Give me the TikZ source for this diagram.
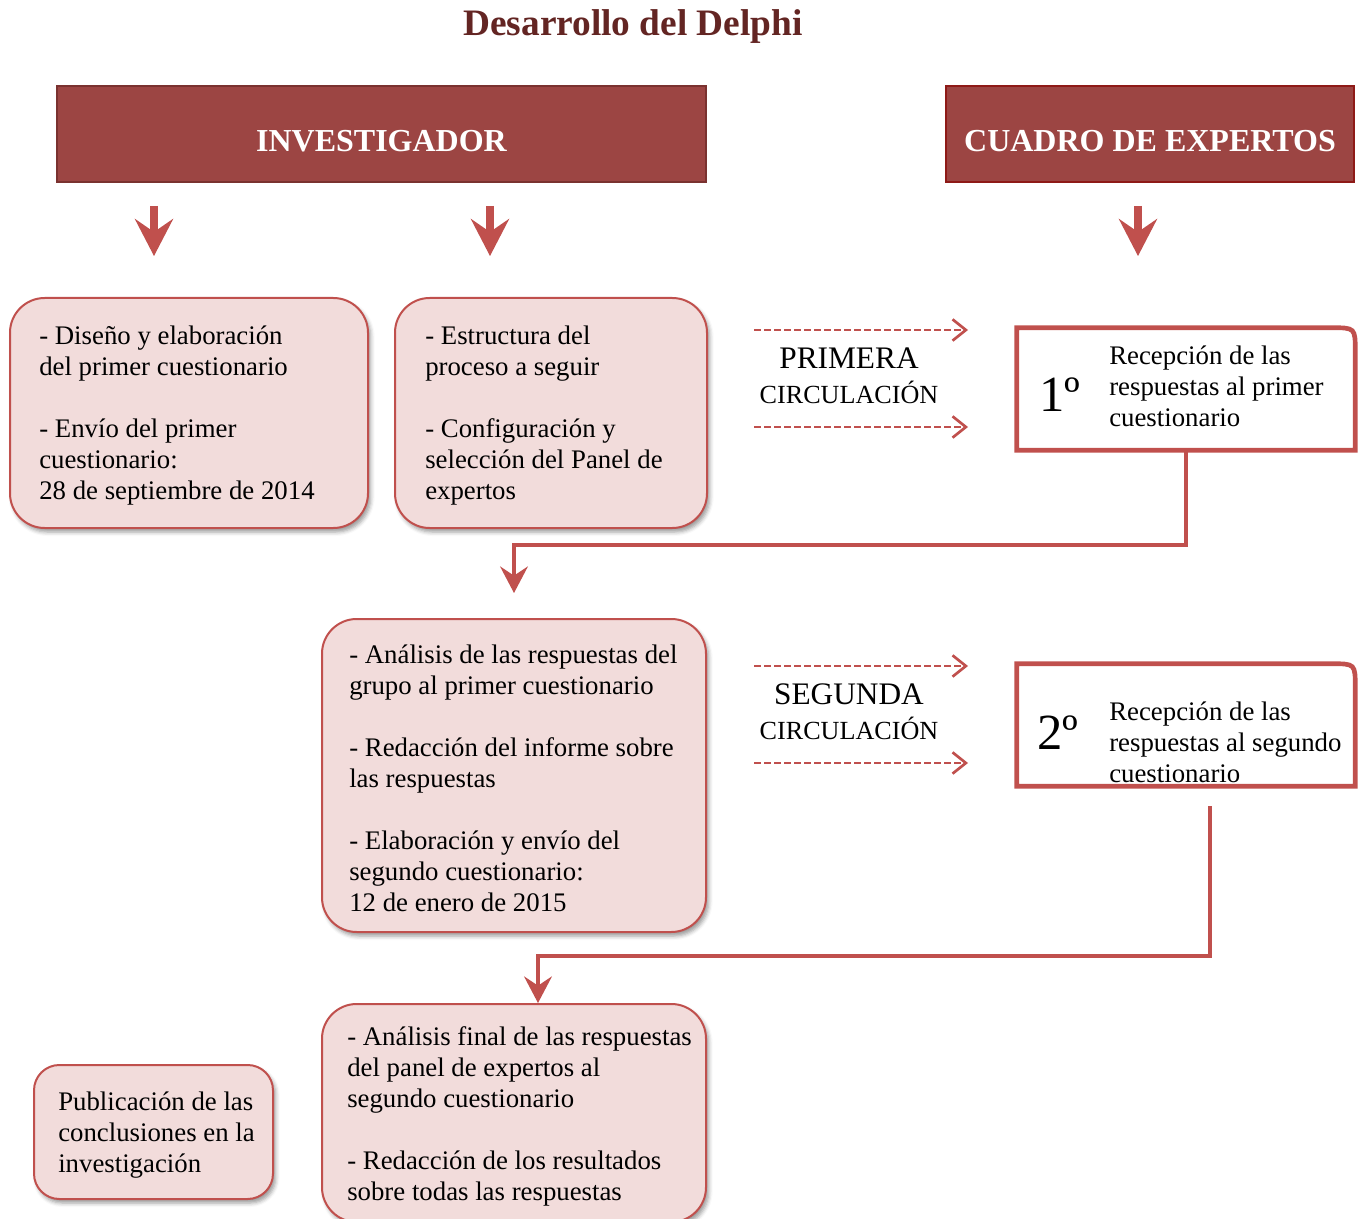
\documentclass[tikz,border=0pt]{standalone}
\usepackage{fontspec}
\setmainfont{Liberation Serif}
\usetikzlibrary{arrows.meta,shadows.blur}

\definecolor{hdr}{HTML}{9C4543}
\definecolor{hdrline}{HTML}{7A3230}
\definecolor{hdrline2}{HTML}{8E1A17}
\definecolor{ttl}{HTML}{632523}
\definecolor{acc}{HTML}{C0504D}
\definecolor{pale}{HTML}{F2DCDB}

\tikzset{
  hdrbox/.style={fill=hdr, draw=hdrline, line width=0.8pt, text=white,
    font=\bfseries\fontsize{24}{26}\selectfont, text height=26pt, text depth=0pt},
  softbox/.style={draw=acc, line width=1.5pt, fill=pale, rounded corners=26pt,
    blur shadow={shadow xshift=2pt, shadow yshift=-3pt, shadow blur radius=3pt}},
  body/.style={font=\fontsize{20.1}{23.25}\selectfont, align=left, inner sep=0pt, anchor=west},
  boxtext/.style={body, yshift=-2.25pt},
  holder/.style={draw=none, inner sep=0pt},
  expline/.style={draw=acc, line width=3.5pt, fill=white},
  bignum/.style={font=\fontsize{38}{40}\selectfont, inner sep=0pt},
  downarrow/.style={draw=acc, line width=6pt,
    -{Stealth[length=28pt,width=29pt,inset=10pt,line width=1pt]}},
  conn/.style={draw=acc, line width=3pt,
    -{Stealth[length=20pt,width=21pt,inset=7pt,line width=1pt]}},
  flow/.style={draw=acc, line width=2pt, dash pattern=on 5pt off 2.5pt,
    -{Straight Barb[length=10pt,width=16pt,line width=2pt]}},
  bigcap/.style={font=\fontsize{23.5}{25}\selectfont, inner sep=0pt},
  smallcap/.style={font=\fontsize{19.6}{22}\selectfont, inner sep=0pt}
}

\begin{document}
\begin{tikzpicture}[x=0.75pt, y=-0.75pt]
\useasboundingbox (0,0) rectangle (1364,1219);

% title
\node[font=\bfseries\fontsize{28}{30}\selectfont, text=ttl] (title) at (633,27) {Desarrollo del Delphi};

% column heads
\node[hdrbox, minimum width=486.75pt, minimum height=72pt] (inv) at (381.5,134) {INVESTIGADOR};
\node[hdrbox, draw=hdrline2, line width=1.2pt, minimum width=306pt, minimum height=72pt] (exp) at (1150,134) {CUADRO DE EXPERTOS};

% arrows under the heads
\coordinate (a1s) at (154,206); \coordinate (a1e) at (154,256);
\coordinate (a2s) at (490,206); \coordinate (a2e) at (490,256);
\coordinate (a3s) at (1138,206); \coordinate (a3e) at (1138,256);
\draw[downarrow] (a1s) -- (a1e);
\draw[downarrow] (a2s) -- (a2e);
\draw[downarrow] (a3s) -- (a3e);

% researcher tasks
\node[softbox, minimum width=268.5pt, minimum height=172.5pt] (b1) at (189,413) {};
\node[boxtext] (t1) at ([xshift=22.5pt]b1.west) {- Diseño y elaboración\\del primer cuestionario\\[23.25pt]- Envío del primer\\cuestionario:\\28 de septiembre de 2014};

\node[softbox, minimum width=234pt, minimum height=172.5pt] (b2) at (551,413) {};
\node[boxtext] (t2) at ([xshift=23.25pt]b2.west) {- Estructura del\\proceso a seguir\\[23.25pt]- Configuración y\\selección del Panel de\\expertos};

\node[softbox, minimum width=288pt, minimum height=234.75pt] (b3) at (514,775.5) {};
\node[boxtext] (t3) at ([xshift=21pt]b3.west) {- Análisis de las respuestas del\\grupo al primer cuestionario\\[23.25pt]- Redacción del informe sobre\\las respuestas\\[23.25pt]- Elaboración y envío del\\segundo cuestionario:\\12 de enero de 2015};

\node[softbox, minimum width=288pt, minimum height=163.5pt] (b4) at (514,1113) {};
\node[boxtext] (t4) at ([xshift=19.5pt]b4.west) {- Análisis final de las respuestas\\del panel de expertos al\\segundo cuestionario\\[23.25pt]- Redacción de los resultados\\sobre todas las respuestas};

\node[softbox, rounded corners=19pt, minimum width=179.25pt, minimum height=100.5pt] (b5) at (153.5,1132) {};
\node[boxtext] (t5) at ([xshift=18.75pt]b5.west) {Publicación de las\\conclusiones en la\\investigación};

% expert panel responses
\node[holder, minimum width=253.5pt, minimum height=91.5pt] (e1) at (1186,389) {};
\draw[expline] (e1.south west) -- (e1.north west) -- ([xshift=-18pt]e1.north east)
  .. controls (e1.north east) .. ([yshift=-18pt]e1.north east) -- (e1.south east) -- cycle;
\node[bignum] (e1n) at (1060,395) {1º};
\node[body] (e1t) at (1109,386) {Recepción de las\\respuestas al primer\\cuestionario};

\node[holder, minimum width=253.5pt, minimum height=91.5pt] (e2) at (1186,725) {};
\draw[expline] (e2.south west) -- (e2.north west) -- ([xshift=-18pt]e2.north east)
  .. controls (e2.north east) .. ([yshift=-18pt]e2.north east) -- (e2.south east) -- cycle;
\node[bignum] (e2n) at (1058,733) {2º};
\node[body] (e2t) at (1109,742) {Recepción de las\\respuestas al segundo\\cuestionario};

% circulation arrows
\coordinate (p1a) at (754,330); \coordinate (p1b) at (968,330);
\coordinate (p2a) at (754,427); \coordinate (p2b) at (968,427);
\draw[flow] (p1a) -- (p1b);
\draw[flow] (p2a) -- (p2b);
\node[bigcap] (prim) at (849,358) {PRIMERA};
\node[smallcap] (circ1) at (849,392) {CIRCULACIÓN};

\coordinate (s1a) at (754,666); \coordinate (s1b) at (968,666);
\coordinate (s2a) at (754,763); \coordinate (s2b) at (968,763);
\draw[flow] (s1a) -- (s1b);
\draw[flow] (s2a) -- (s2b);
\node[bigcap] (seg) at (849,694) {SEGUNDA};
\node[smallcap] (circ2) at (849,728) {CIRCULACIÓN};

% return connectors
\coordinate (k1) at (514,545); \coordinate (k1t) at (514,593);
\draw[conn] (e1.south) |- (k1) -- (k1t);

\coordinate (q0) at (1210,806); \coordinate (q1) at (538,956); \coordinate (q1t) at (538,1003);
\draw[conn] (q0) |- (q1) -- (q1t);
\end{tikzpicture}
\end{document}
